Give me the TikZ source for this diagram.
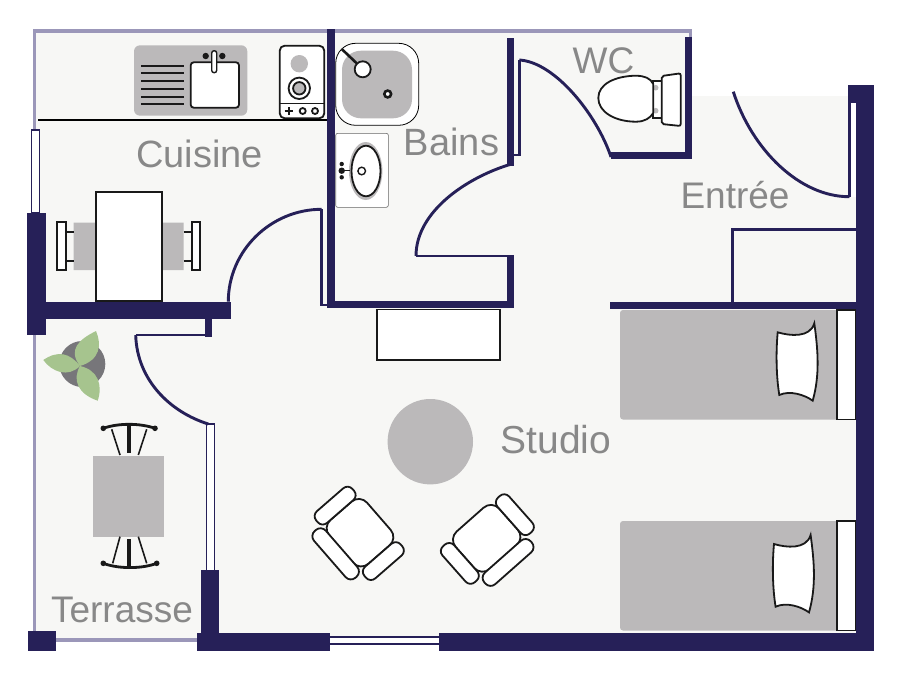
\documentclass[tikz,border=0pt]{standalone}
\usepackage{fontspec}
\setmainfont{Liberation Sans}
\definecolor{wallblue}{HTML}{262058}
\definecolor{lavender}{HTML}{9B97B9}
\definecolor{floorgrey}{HTML}{F7F7F5}
\definecolor{furngrey}{HTML}{BBB9BA}
\definecolor{labelgrey}{HTML}{888888}
\definecolor{leafgreen}{HTML}{A6C48E}
\definecolor{potgrey}{HTML}{77767A}
\tikzset{
    wall/.style={fill=wallblue,draw=none},
    frameline/.style={draw=wallblue,line width=2.6},
    doorline/.style={draw=wallblue,line width=2.9},
    fineline/.style={draw=black!90,line width=1.8},
    whitepart/.style={fineline,fill=white},
    greypart/.style={fill=furngrey,draw=none},
    roomlabel/.style={text=labelgrey,font=\fontsize{#1}{#1}\selectfont,anchor=base,inner sep=0pt},
    roomlabel/.default=37,
    armchair/.pic={
        \draw[whitepart,rounded corners=11] (-29,-25) rectangle (29,25);
        \draw[whitepart,rounded corners=7] (-31,24.5) rectangle (31,40);
        \draw[whitepart,rounded corners=6.5] (-44.5,-23) rectangle (-29,25);
        \draw[whitepart,rounded corners=6.5] (29,-23) rectangle (44.5,25);
    }
}
\def\pillowshape{(777.7,332.3) .. controls (790,336) and (810,338) .. (814.3,323.3)
    .. controls (818,350) and (820,375) .. (812.7,400.7)
    .. controls (805,395) and (790,390) .. (779.3,395)
    .. controls (776,375) and (776,350) .. (777.7,332.3) -- cycle}
\begin{document}
\begin{tikzpicture}[x=1pt,y=-1pt]
    \useasboundingbox (0,0) rectangle (900,680);

    % Floor
    \fill[floorgrey] (34,31) -- (690,31) -- (690,96) -- (856,96) -- (856,640) -- (439,640)
        -- (439,637) -- (330,637) -- (330,640) -- (34,640) -- cycle;

    % Kitchen sink
    \fill[furngrey,rounded corners=6] (134,45.3) rectangle (247.3,115.7);
    \foreach \y in {65.7,73.3,81.3,89,96.7,104}
        \draw[black!90,line width=1.8] (141.3,\y) -- (184,\y);
    \draw[whitepart,rounded corners=3] (190.7,62.3) rectangle (239,107.7);
    \fill[black!90] (205.7,56) circle (3.2) (222.3,56) circle (3.2);
    \draw[whitepart,line width=1.4,rounded corners=2.4] (211.7,50.7) rectangle (216.7,72.7);

    % Stove
    \draw[whitepart,rounded corners=5] (279.7,45.7) rectangle (324.3,118.3);
    \fill[furngrey] (299.3,63.7) circle (8.7);
    \draw[fineline] (299.3,88.3) circle (10.7);
    \draw[fineline,fill=furngrey] (299.3,88.3) circle (6.2);
    \draw[fineline,line width=1] (279.7,103.3) -- (324.3,103.3);
    \draw[fineline] (284.7,111) -- (292.7,111) (288.7,107) -- (288.7,115);
    \draw[fineline] (302.7,111) circle (3) (315,111) circle (3);
    \draw[black,line width=1.8] (38,120) -- (328,120);

    % Kitchen table and chairs
    \fill[furngrey] (73.7,222.7) rectangle (96,270) (161.7,222.7) rectangle (183.7,270);
    \foreach \y in {231.7,260.7}
        \draw[fineline] (65.7,\y) -- (73.7,\y) (183.7,\y) -- (191.7,\y);
    \draw[whitepart] (56.7,222.3) rectangle (65.7,270);
    \draw[whitepart] (191.7,222.3) rectangle (200.3,270);
    \draw[whitepart,line width=2.2] (96,191.7) rectangle (161.7,300.7);

    % Bath
    \draw[black,fill=white,line width=0.8,rounded corners=20] (335.7,43.3) rectangle (418.7,125.3);
    \fill[furngrey,rounded corners=19] (342,50.7) rectangle (412,118.3);
    \draw[black!90,line width=2.6] (341.7,49) -- (356.7,63.3);
    \draw[fineline,fill=white] (362.7,69.3) circle (8);
    \draw[black!90,line width=2.6,fill=white] (387.7,94) circle (3.4);

    % Basin
    \draw[black!60,fill=white,line width=0.6,rounded corners=2] (335.7,133.3) rectangle (388.3,207.3);
    \fill[furngrey] (365.7,171) ellipse (16.7 and 29);
    \draw[whitepart] (366,171) ellipse (14.5 and 25.3);
    \draw[black!90,line width=1.4] (361.7,171) circle (3.8);
    \fill[black!90] (341.7,170.7) circle (3.2) (341.7,164) circle (2.2) (341.7,177.3) circle (2.2);
    \draw[fineline,line width=1.4] (341.7,170.7) -- (350,170.7);

    % Toilet
    \draw[whitepart] (653.3,80.7) rectangle (661.7,118.3);
    \fill[furngrey] (655.7,87.7) circle (2.8) (655.7,110.7) circle (2.8);
    \draw[fineline,fill=white] (653.3,84) .. controls (650,78) and (645,76) .. (636,75.7)
        .. controls (615,76) and (598.3,84) .. (598.3,98)
        .. controls (598.3,112) and (615,121.7) .. (636,121.7)
        .. controls (645,121.7) and (650,118) .. (653.3,113) -- cycle;
    \draw[whitepart,rounded corners=2] (661.7,76) -- (680.7,73.3) -- (680.7,126) -- (661.7,124) -- cycle;

    % Beds
    \foreach \ytop in {310,521}{
        \fill[furngrey,rounded corners=3] (620,\ytop) rectangle (840,\ytop+109.5);
        \draw[whitepart] (836.7,\ytop) rectangle (855.5,\ytop+109.5);
    }
    \draw[fineline,fill=white] \pillowshape;
    \begin{scope}[shift={(-3.7,211.7)}]
        \draw[fineline,fill=white] \pillowshape;
    \end{scope}

    % Studio furniture
    \draw[fineline,fill=white] (377,309.5) rectangle (500,360);
    \fill[furngrey] (430.3,441.7) circle (42.7);
    \pic[rotate=-49] at (360,532.7) {armchair};
    \pic[rotate=41.5] at (486.7,538.3) {armchair};

    % Plant
    \fill[potgrey] (82.3,364) circle (23);
    \fill[leafgreen] (80,366) .. controls (68,350) and (78,340) .. (96,331) .. controls (102,345) and (100,360) .. (80,366);
    \fill[leafgreen] (80,366) .. controls (70,353) and (58,350) .. (43.3,360) .. controls (52,372) and (68,378) .. (80,366);
    \fill[leafgreen] (80,366) .. controls (72,380) and (78,394) .. (97.7,400.7) .. controls (103,385) and (98,370) .. (80,366);

    % Terrace table and chairs
    \fill[furngrey] (92.7,456) rectangle (164,537.3);
    \draw[black!90,line width=2.8] (103.3,428.3) .. controls (118,423) and (140,423) .. (155,428.3);
    \draw[black!90,line width=4.4] (129,425) -- (129,452.7);
    \draw[black!90,line width=1.6] (111.7,429.3) -- (120,455) (146.7,429.3) -- (138.3,455);
    \fill[black!90] (103.3,428.3) circle (2.8) (155,428.3) circle (2.8);
    \draw[black!90,line width=2.8] (103.3,563.3) .. controls (118,569) and (142,569) .. (156.7,563.3);
    \draw[black!90,line width=4.4] (129,539.3) -- (129,566);
    \draw[black!90,line width=1.6] (120,536.7) -- (112.7,563.3) (138.3,536.7) -- (146.7,563.3);
    \fill[black!90] (103.3,563.3) circle (2.8) (156.7,563.3) circle (2.8);

    % Light outer walls
    \draw[lavender,line width=3.4] (34.5,130) -- (34.5,31) -- (690.5,31) -- (690.5,38);
    \draw[lavender,line width=3.4] (34.5,335) -- (34.5,640) -- (197,640);

    % Windows
    \draw[wallblue,fill=white,line width=1.4] (31.7,130) rectangle (39.3,213);
    \draw[wallblue,fill=white,line width=1.4] (206.3,424) rectangle (214.3,571);
    \draw[wallblue,line width=1.8] (330,636.7) -- (439,636.7) (330,644) -- (439,644);
    \draw[draw=none,fill=white] (851,103) rectangle (855.7,197);

    % Walls
    \fill[wall] (27.3,213) rectangle (45.7,335);
    \fill[wall] (45,301.7) rectangle (230.7,319.3);
    \fill[wall] (205,319) rectangle (212.3,336.7);
    \fill[wall] (200.7,570) rectangle (219,640);
    \fill[wall] (196.5,632.7) rectangle (330,650.7);
    \fill[wall] (439,632.7) rectangle (873.7,650.7);
    \fill[wall] (28.3,631) rectangle (56,650.7);
    \fill[wall] (855.7,85) rectangle (873.7,651);
    \fill[wall] (847.7,85) rectangle (873.7,103);
    \fill[wall] (327.3,29) rectangle (335,308.3);
    \fill[wall] (327.3,301) rectangle (514.3,308.3);
    \fill[wall] (506.7,255) rectangle (514.3,308.3);
    \fill[wall] (506.7,38.3) rectangle (514.3,165.7);
    \fill[wall] (611,152) rectangle (691.7,159);
    \fill[wall] (684.7,37) rectangle (691.7,159);
    \fill[wall] (610,301.7) rectangle (856,309.3);

    % Door frames and swings
    \draw[frameline] (321.7,209.3) -- (321.7,305) -- (328,305);
    \draw[frameline] (514,155) -- (519.3,155) -- (519.3,60);
    \draw[frameline] (205,335) -- (135.7,335);
    \draw[frameline] (416,256) -- (507,256);
    \draw[frameline,line width=2.8] (849.5,103) -- (849.5,196.7);
    \draw[frameline,line width=3.2] (732.3,302) -- (732.3,229.5) -- (856,229.5);
    \draw[doorline] (228.3,301.7) .. controls (228.3,250.7) and (270.7,209.3) .. (321.7,209.3);
    \draw[doorline] (135.7,335) .. controls (137,380) and (170,412) .. (208.3,424);
    \draw[doorline] (511.7,164) .. controls (470,176) and (416,210) .. (416,256);
    \draw[doorline] (519.3,60) .. controls (555,62) and (597,115) .. (611,157);
    \draw[doorline] (733.3,91.7) .. controls (752,150) and (800,197) .. (849.5,196.7);

    % Room names
    \node[roomlabel=38] (cuisine) at (199.5,167.5) {Cuisine};
    \node[roomlabel=38] (bains) at (451.5,155) {Bains};
    \node[roomlabel] (wc) at (603.5,73.5) {WC};
    \node[roomlabel] (entree) at (735,208.5) {Entrée};
    \node[roomlabel=39] (studio) at (556,453) {Studio};
    \node[roomlabel] (terrasse) at (122,622) {Terrasse};
\end{tikzpicture}
\end{document}
